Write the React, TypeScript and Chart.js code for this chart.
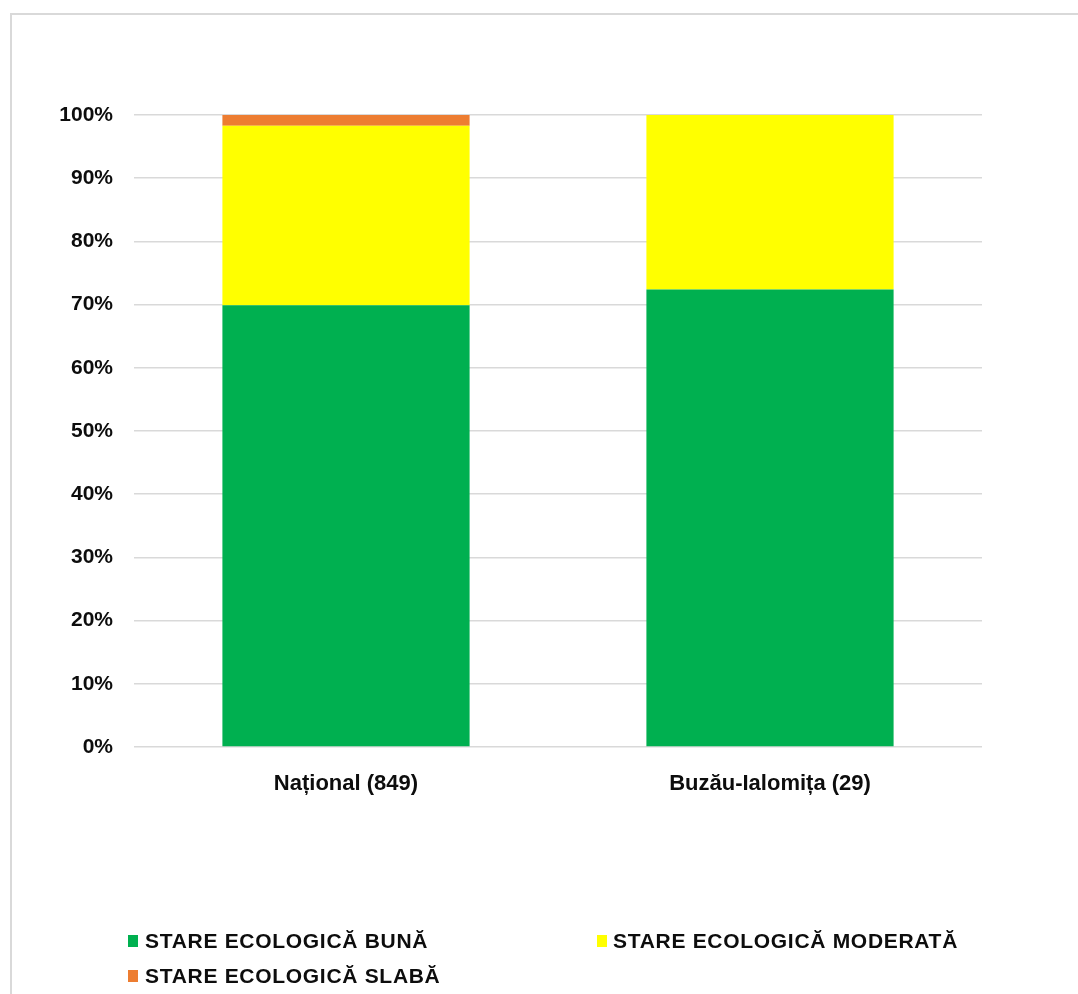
import React, { useEffect, useRef } from "react";
import { Chart, registerables } from "chart.js";

Chart.register(...registerables);

const categories = ["Național (849)", "Buzău-Ialomița (29)"];
const seriesNames = [
  "STARE ECOLOGICĂ BUNĂ",
  "STARE ECOLOGICĂ MODERATĂ",
  "STARE ECOLOGICĂ SLABĂ",
];
const goodValues = [69.9, 72.4];
const moderateValues = [28.4, 27.6];
const poorValues = [1.7, 0];
const seriesColors = ["#00b050", "#ffff00", "#ed7d31"];
const yTicks = [0, 10, 20, 30, 40, 50, 60, 70, 80, 90, 100];

const FONT = "'Liberation Sans', Arial, Helvetica, sans-serif";

export default function App() {
  const canvasRef = useRef<HTMLCanvasElement | null>(null);

  useEffect(() => {
    if (!canvasRef.current) return;
    const seriesValues = [goodValues, moderateValues, poorValues];
    const chart = new Chart(canvasRef.current, {
      type: "bar",
      data: {
        labels: categories,
        datasets: seriesNames.map((name, i) => ({
          label: name,
          data: seriesValues[i],
          backgroundColor: seriesColors[i],
          borderWidth: 0,
          barPercentage: 0.583,
          categoryPercentage: 1,
        })),
      },
      options: {
        animation: false,
        responsive: false,
        maintainAspectRatio: false,
        layout: { padding: { left: 0, right: 96, top: 115, bottom: 197 } },
        plugins: {
          legend: { display: false },
          tooltip: { enabled: false },
          title: { display: false },
        },
        scales: {
          x: {
            stacked: true,
            grid: { display: false },
            border: { display: false },
            ticks: {
              padding: 16,
              color: "#0d0d0d",
              font: { family: FONT, size: 22, weight: "bold" },
              maxRotation: 0,
            },
            afterFit: (scale: any) => {
              scale.height = 50;
            },
          },
          y: {
            stacked: true,
            min: 0,
            max: 100,
            afterBuildTicks: (scale: any) => {
              scale.ticks = yTicks.map((v) => ({ value: v }));
            },
            grid: { color: "#d9d9d9", lineWidth: 1.5, drawTicks: false },
            border: { display: false },
            ticks: {
              padding: 21,
              color: "#0d0d0d",
              font: { family: FONT, size: 21, weight: "bold" },
              callback: (v: any) => `${v}%`,
            },
            afterFit: (scale: any) => {
              scale.width = 134;
            },
          },
        },
      },
    });
    return () => chart.destroy();
  }, []);

  const legendItems = [
    { name: seriesNames[0], color: seriesColors[0], x: 128, textX: 145, y: 933 },
    { name: seriesNames[1], color: seriesColors[1], x: 597, textX: 613, y: 933 },
    { name: seriesNames[2], color: seriesColors[2], x: 128, textX: 145, y: 968 },
  ];

  return (
    <div
      style={{
        position: "fixed",
        left: 0,
        top: 0,
        width: 1078,
        height: 994,
        overflow: "hidden",
        background: "#ffffff",
      }}
    >
      <div
        style={{
          position: "absolute",
          left: 10,
          top: 13,
          right: -20,
          bottom: -20,
          borderTop: "2px solid #d9d9d9",
          borderLeft: "2px solid #d9d9d9",
        }}
      />
      <canvas
        ref={canvasRef}
        width={1078}
        height={994}
        style={{ position: "absolute", left: 0, top: 0, display: "block" }}
      />
      {legendItems.map((it) => (
        <React.Fragment key={it.name}>
          <div
            style={{
              position: "absolute",
              left: it.x,
              top: it.y + 2,
              width: 10,
              height: 12,
              background: it.color,
            }}
          />
          <div
            style={{
              position: "absolute",
              left: it.textX,
              top: it.y - 3,
              fontFamily: FONT,
              fontWeight: "bold",
              fontSize: 21,
              lineHeight: "21px",
              letterSpacing: "0.7px",
              color: "#0d0d0d",
              whiteSpace: "nowrap",
            }}
          >
            {it.name}
          </div>
        </React.Fragment>
      ))}
    </div>
  );
}
